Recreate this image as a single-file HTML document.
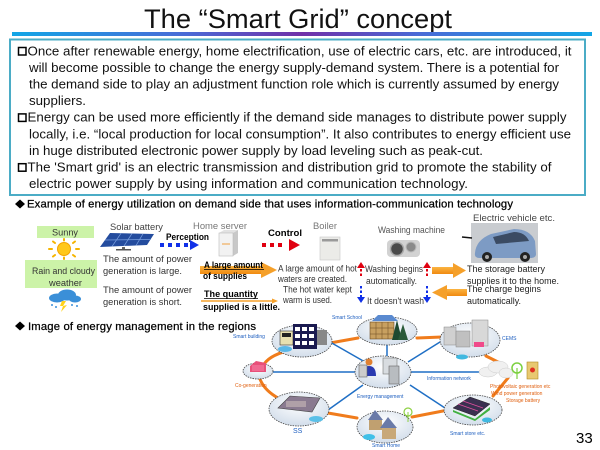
<!DOCTYPE html>
<html><head><meta charset="utf-8"><style>
html,body{margin:0;padding:0;background:#fff}
svg{display:block}
</style></head><body>
<svg width="600" height="450" viewBox="0 0 600 450" xmlns="http://www.w3.org/2000/svg" font-family="'Liberation Sans', Arial, sans-serif">
<defs>
<linearGradient id="bar" x1="0" x2="1" y1="0" y2="0">
<stop offset="0" stop-color="#12a6e6"/><stop offset="0.3" stop-color="#4a6ad6"/><stop offset="0.5" stop-color="#7030a8"/><stop offset="0.7" stop-color="#4a6ad6"/><stop offset="1" stop-color="#12a6e6"/>
</linearGradient>
<radialGradient id="ell" cx="0.5" cy="0.35" r="0.7"><stop offset="0" stop-color="#ffffff"/><stop offset="1" stop-color="#cfdbe9"/></radialGradient>
<linearGradient id="org" x1="0" x2="0" y1="0" y2="1"><stop offset="0" stop-color="#fbb441"/><stop offset="1" stop-color="#f08a10"/></linearGradient>
</defs>
<rect width="600" height="450" fill="#fff"/>

<!-- Title -->
<text x="144" y="28" font-size="27" fill="#111" textLength="308" lengthAdjust="spacingAndGlyphs">The “Smart Grid” concept</text>
<rect x="12" y="32" width="580" height="4" fill="url(#bar)"/>

<!-- Text box -->
<rect x="10" y="39.5" width="575" height="155.5" fill="#fff" stroke="#4bacc6" stroke-width="2"/>
<g font-size="13.3" fill="#111">
<rect x="18.5" y="47.5" width="7.5" height="7.5" fill="none" stroke="#000" stroke-width="1.5"/>
<text x="27.5" y="55.3" textLength="544" lengthAdjust="spacing">Once after renewable energy, home electrification, use of electric cars, etc. are introduced, it</text>
<text x="29" y="71.9" textLength="530" lengthAdjust="spacing">will become possible to change the energy supply-demand system. There is a potential for</text>
<text x="29" y="88.5" textLength="530" lengthAdjust="spacing">the demand side to play an adjustment function role which is currently assumed by energy</text>
<text x="29" y="105.1">suppliers.</text>
<rect x="18.5" y="113.9" width="7.5" height="7.5" fill="none" stroke="#000" stroke-width="1.5"/>
<text x="27.5" y="121.7" textLength="539" lengthAdjust="spacing">Energy can be used more efficiently if the demand side manages to distribute power supply</text>
<text x="29" y="138.3" textLength="542" lengthAdjust="spacing">locally, i.e. “local production for local consumption”. It also contributes to energy efficient use</text>
<text x="29" y="154.9" textLength="454" lengthAdjust="spacing">in huge distributed electronic power supply by load leveling such as peak-cut.</text>
<rect x="18.5" y="163.7" width="7.5" height="7.5" fill="none" stroke="#000" stroke-width="1.5"/>
<text x="27.5" y="171.5" textLength="524" lengthAdjust="spacing">The 'Smart grid' is an electric transmission and distribution grid to promote the stability of</text>
<text x="29" y="188.1" textLength="439" lengthAdjust="spacing">electric power supply by using information and communication technology.</text>
</g>

<!-- Heading 1 -->
<polygon points="15,204 20,199.5 25,204 20,208.5" fill="#000"/>
<text x="27" y="207.5" font-size="11.3" fill="#000" stroke="#000" stroke-width="0.25" textLength="486" lengthAdjust="spacing">Example of energy utilization on demand side that uses information-communication technology</text>

<!-- Sunny -->
<rect x="37" y="226" width="57" height="12" fill="#ccf3a8"/>
<text x="52" y="235.5" font-size="9.5" fill="#333" textLength="26" lengthAdjust="spacingAndGlyphs">Sunny</text>
<circle cx="64" cy="249" r="6.5" fill="#ffc81a" stroke="#f3a400" stroke-width="1"/>
<g stroke="#f5b400" stroke-width="2" stroke-linecap="round">
<line x1="52" y1="249" x2="49" y2="249"/><line x1="76" y1="249" x2="79" y2="249"/>
<line x1="64" y1="240.5" x2="64" y2="239"/><line x1="64" y1="257.5" x2="64" y2="259"/>
<line x1="55" y1="243" x2="53" y2="241.5"/><line x1="73" y1="243" x2="75" y2="241.5"/>
<line x1="55" y1="255" x2="53" y2="256.5"/><line x1="73" y1="255" x2="75" y2="256.5"/>
</g>

<!-- Solar battery -->
<text x="110" y="230" font-size="9.5" fill="#444" textLength="53" lengthAdjust="spacingAndGlyphs">Solar battery</text>
<polygon points="110,233 154,234 147,245 100,247" fill="#244c9e"/>
<g stroke="#7aa0e0" stroke-width="0.7"><line x1="121" y1="233.3" x2="112" y2="246.5"/><line x1="132" y1="233.5" x2="124" y2="246"/><line x1="143" y1="233.8" x2="136" y2="245.6"/><line x1="105" y1="240" x2="151" y2="239.5"/></g>
<rect x="122" y="247" width="3" height="3" fill="#666"/><rect x="116" y="249" width="15" height="1.5" fill="#555"/>

<!-- Perception -->
<text x="166" y="240" font-size="9.5" font-weight="bold" fill="#000" textLength="43" lengthAdjust="spacingAndGlyphs">Perception</text>
<g fill="#1030e8"><rect x="160" y="243" width="4" height="4"/><rect x="168" y="243" width="4" height="4"/><rect x="176" y="243" width="4" height="4"/><rect x="184" y="243" width="4" height="4"/><polygon points="190,240 199,245 190,250"/></g>

<!-- Home server -->
<text x="193" y="229" font-size="9.5" fill="#777" textLength="54" lengthAdjust="spacingAndGlyphs">Home server</text>
<polygon points="219,233 224,230 238,230 233,233" fill="#e2e2e2"/>
<polygon points="233,233 238,230 238,253 233,256" fill="#c8c8c8"/>
<rect x="219" y="233" width="14" height="23" fill="#f2f2f2" stroke="#bbb" stroke-width="0.6"/>
<line x1="222" y1="244" x2="230" y2="244" stroke="#f0a040" stroke-width="1"/>

<!-- Control -->
<text x="268" y="236" font-size="9.5" font-weight="bold" fill="#000" textLength="34" lengthAdjust="spacingAndGlyphs">Control</text>
<g fill="#e00010"><rect x="262" y="243" width="4" height="4"/><rect x="270" y="243" width="4" height="4"/><rect x="278" y="243" width="4" height="4"/><polygon points="289,239 300,245 289,251"/></g>

<!-- Boiler -->
<text x="313" y="229" font-size="9.5" fill="#777" textLength="24" lengthAdjust="spacingAndGlyphs">Boiler</text>
<rect x="320" y="237" width="20" height="23" fill="#ebebe8" stroke="#c8c8c8" stroke-width="0.6"/>
<rect x="322" y="239" width="16" height="2.5" fill="#9a9a9a"/>

<!-- Washing machine -->
<text x="378" y="233" font-size="9.5" fill="#555" textLength="67" lengthAdjust="spacingAndGlyphs">Washing machine</text>
<rect x="387" y="240" width="33" height="17" rx="4" fill="#d2d2d2"/>
<circle cx="397" cy="249" r="6.5" fill="#4a4a4a" stroke="#aaa" stroke-width="1.5"/>
<circle cx="411" cy="247" r="5" fill="#8a8a8a" stroke="#bbb" stroke-width="1"/>

<!-- Electric vehicle -->
<text x="473" y="221" font-size="9.5" fill="#444" textLength="82" lengthAdjust="spacingAndGlyphs">Electric vehicle etc.</text>
<rect x="471" y="223" width="67" height="40" fill="#c9ccd0"/>
<path d="M462,237 L472,238" stroke="#111" stroke-width="1.5"/>
<path d="M475,253 Q476,240 491,234 L514,229 Q530,229 535,241 L536,254 Q536,258 530,258 L480,258 Q474,258 475,253 Z" fill="#7d9bc4"/>
<path d="M493,237 L514,232 Q525,232 529,241 L496,244 Z" fill="#3b4b63"/>
<circle cx="487" cy="257" r="5" fill="#222"/><circle cx="487" cy="257" r="2" fill="#aaa"/>
<circle cx="525" cy="257" r="5" fill="#222"/><circle cx="525" cy="257" r="2" fill="#aaa"/>

<!-- Rain box -->
<rect x="25" y="260" width="72" height="28" fill="#ccf3a8"/>
<text x="32" y="274" font-size="9.5" fill="#333" textLength="63" lengthAdjust="spacingAndGlyphs">Rain and cloudy</text>
<text x="49" y="286" font-size="9.5" fill="#333" textLength="33" lengthAdjust="spacingAndGlyphs">weather</text>
<g fill="#3a8fd8"><ellipse cx="57" cy="298" rx="8" ry="4.5"/><ellipse cx="67" cy="295" rx="9" ry="5.5"/><ellipse cx="75" cy="299" rx="6" ry="3.5"/></g>
<polygon points="62,301 66,301 63,306 67,305 61,312 63,306 60,306" fill="#ffd21a"/>
<g fill="#3a8fd8"><circle cx="52" cy="305" r="1"/><circle cx="72" cy="305" r="1"/><circle cx="77" cy="306" r="1"/><circle cx="56" cy="307" r="1"/></g>

<g font-size="9.5" fill="#333" lengthAdjust="spacingAndGlyphs">
<text x="103" y="262" textLength="89" lengthAdjust="spacingAndGlyphs">The amount of power</text>
<text x="103" y="274" textLength="79" lengthAdjust="spacingAndGlyphs">generation is large.</text>
<text x="103" y="293" textLength="89" lengthAdjust="spacingAndGlyphs">The amount of power</text>
<text x="103" y="305" textLength="79" lengthAdjust="spacingAndGlyphs">generation is short.</text>
</g>

<!-- Orange big arrow -->
<rect x="200" y="266" width="62" height="8" fill="url(#org)"/>
<polygon points="261,262 277,270 261,278" fill="#f5a02a"/>
<g font-size="9.5" font-weight="bold" fill="#000">
<text x="204" y="268" textLength="59" lengthAdjust="spacingAndGlyphs">A large amount</text>
<line x1="204" y1="269.5" x2="264" y2="269.5" stroke="#000" stroke-width="0.8"/>
<text x="203" y="279" textLength="44" lengthAdjust="spacingAndGlyphs">of supplies</text>
<text x="204" y="297" textLength="54" lengthAdjust="spacingAndGlyphs">The quantity</text>
<line x1="204" y1="298.5" x2="258" y2="298.5" stroke="#000" stroke-width="0.8"/>
<text x="203" y="310" textLength="77" lengthAdjust="spacingAndGlyphs">supplied is a little.</text>
</g>
<line x1="201" y1="301" x2="273" y2="301" stroke="#f5a02a" stroke-width="1.5"/>
<polygon points="272,298.5 278,301 272,303.5" fill="#f5a02a"/>

<g font-size="9" fill="#333">
<text x="278" y="271.5" textLength="79" lengthAdjust="spacingAndGlyphs">A large amount of hot</text>
<text x="278" y="282" textLength="69" lengthAdjust="spacingAndGlyphs">waters are created.</text>
<text x="283" y="292.5" textLength="69" lengthAdjust="spacingAndGlyphs">The hot water kept</text>
<text x="283" y="303" textLength="49" lengthAdjust="spacingAndGlyphs">warm is used.</text>
</g>

<!-- dotted up/down arrows -->
<g>
<polygon points="357,268 361,262 365,268" fill="#e00010"/>
<g fill="#e00010"><rect x="360" y="269" width="2" height="2.5"/><rect x="360" y="273.5" width="2" height="2.5"/></g>
<g fill="#1030e8"><rect x="360" y="286" width="2" height="2.5"/><rect x="360" y="290.5" width="2" height="2.5"/><rect x="360" y="295" width="2" height="2"/></g>
<polygon points="357,297 361,303 365,297" fill="#1030e8"/>
<polygon points="423,268 427,262 431,268" fill="#e00010"/>
<g fill="#e00010"><rect x="426" y="269" width="2" height="2.5"/><rect x="426" y="273.5" width="2" height="2.5"/></g>
<g fill="#1030e8"><rect x="426" y="286" width="2" height="2.5"/><rect x="426" y="290.5" width="2" height="2.5"/><rect x="426" y="295" width="2" height="2"/></g>
<polygon points="423,297 427,303 431,297" fill="#1030e8"/>
</g>
<g font-size="9" fill="#333">
<text x="365" y="272" textLength="58" lengthAdjust="spacingAndGlyphs">Washing begins</text>
<text x="366" y="284" textLength="51" lengthAdjust="spacingAndGlyphs">automatically.</text>
<text x="367" y="304" textLength="57" lengthAdjust="spacingAndGlyphs">It doesn't wash</text>
</g>

<!-- orange arrows right side -->
<rect x="432" y="267" width="22" height="7" fill="url(#org)"/>
<polygon points="453,263 466,270.5 453,278" fill="#f5a02a"/>
<rect x="446" y="289" width="21" height="7" fill="url(#org)"/>
<polygon points="447,285 432,292.5 447,300" fill="#f5a02a"/>
<g font-size="9.6" fill="#222">
<text x="467" y="272" textLength="78" lengthAdjust="spacingAndGlyphs">The storage battery</text>
<text x="467" y="284" textLength="92" lengthAdjust="spacingAndGlyphs">supplies it to the home.</text>
<text x="467" y="292" textLength="74" lengthAdjust="spacingAndGlyphs">The charge begins</text>
<text x="467" y="304" textLength="54" lengthAdjust="spacingAndGlyphs">automatically.</text>
</g>

<!-- Heading 2 -->
<polygon points="15,326 20,321.5 25,326 20,330.5" fill="#000"/>
<text x="28" y="330" font-size="11.3" fill="#000" stroke="#000" stroke-width="0.25" textLength="228" lengthAdjust="spacing">Image of energy management in the regions</text>

<!-- Region diagram: lines -->
<g stroke="#f07c1c" stroke-width="3" fill="none" stroke-linecap="round">
<line x1="330" y1="343" x2="358" y2="338"/>
<path d="M263,366 Q268,356 287,351"/>
<path d="M260,379 Q264,390 278,398"/>
<line x1="328" y1="413" x2="357" y2="418"/>
<line x1="417" y1="338" x2="442" y2="337"/>
<line x1="486" y1="356" x2="500" y2="363"/>
<line x1="508" y1="378" x2="493" y2="396"/>
<line x1="443" y1="411" x2="412" y2="417"/>
</g>
<g stroke="#1f6fc5" stroke-width="1.5" fill="none">
<line x1="330" y1="342" x2="365" y2="362"/>
<line x1="273" y1="372" x2="356" y2="372"/>
<line x1="328" y1="410" x2="363" y2="385"/>
<line x1="408" y1="362" x2="440" y2="342"/>
<line x1="410" y1="372" x2="482" y2="372"/>
<line x1="410" y1="385" x2="445" y2="408"/>
<line x1="387" y1="345" x2="387" y2="356"/>
</g>

<!-- Ellipses -->
<g fill="url(#ell)" stroke="#444" stroke-width="0.8" stroke-dasharray="1.5,1">
<ellipse cx="302" cy="341" rx="30" ry="16"/>
<ellipse cx="387" cy="331" rx="30" ry="14"/>
<ellipse cx="258" cy="371" rx="15" ry="8"/>
<ellipse cx="383" cy="372" rx="28" ry="16"/>
<ellipse cx="299" cy="409" rx="30" ry="17"/>
<ellipse cx="385" cy="427" rx="28" ry="16"/>
<ellipse cx="470" cy="340" rx="30" ry="17"/>
<ellipse cx="473" cy="410" rx="29" ry="15"/>
</g>

<!-- Icons: smart building -->
<rect x="280" y="331" width="13" height="14" fill="#e8e0b0" stroke="#333" stroke-width="0.6"/>
<rect x="282" y="333" width="9" height="4" fill="#222"/>
<rect x="293" y="324" width="24" height="25" fill="#1a1a50"/>
<g fill="#fff"><rect x="295" y="327" width="5" height="4"/><rect x="302" y="327" width="5" height="4"/><rect x="309" y="327" width="5" height="4"/><rect x="295" y="334" width="5" height="4"/><rect x="302" y="334" width="5" height="4"/><rect x="309" y="334" width="5" height="4"/><rect x="295" y="341" width="5" height="4"/><rect x="302" y="341" width="5" height="4"/><rect x="309" y="341" width="5" height="4"/></g>
<rect x="317" y="330" width="10" height="15" fill="#888"/>
<ellipse cx="285" cy="349" rx="7" ry="3" fill="#5ab8e8"/>

<!-- smart school -->
<rect x="370" y="322" width="24" height="17" fill="#c8a060" stroke="#6a4a20" stroke-width="0.6"/>
<g stroke="#6a4a20" stroke-width="0.5"><line x1="376" y1="322" x2="376" y2="339"/><line x1="382" y1="322" x2="382" y2="339"/><line x1="388" y1="322" x2="388" y2="339"/><line x1="370" y1="328" x2="394" y2="328"/><line x1="370" y1="334" x2="394" y2="334"/></g>
<polygon points="392,340 397,320 402,340" fill="#1e4a30"/>
<polygon points="398,340 403,324 408,340" fill="#2a5a3a"/>
<polygon points="372,321 378,315 392,315 398,321" fill="#5a8ad0"/>

<!-- co-generation -->
<polygon points="250,366 256,361 266,363 266,372 250,372" fill="#e8507a"/>
<rect x="252" y="365" width="12" height="6" fill="#f06a92"/>

<!-- center -->
<circle cx="369" cy="362" r="3.5" fill="#e08030"/>
<path d="M362,376 Q362,366 369,366 Q376,366 376,376 Z" fill="#2a3ab0"/>
<rect x="359" y="365" width="8" height="12" fill="#ccc" stroke="#666" stroke-width="0.6"/>
<rect x="383" y="358" width="14" height="16" fill="#d8dce0" stroke="#777" stroke-width="0.6"/>
<rect x="389" y="366" width="10" height="18" fill="#b8bcc0" stroke="#666" stroke-width="0.6"/>

<!-- SS -->
<polygon points="278,408 290,396 320,398 312,412" fill="#8a7a90" stroke="#444" stroke-width="0.6"/>
<rect x="286" y="401" width="20" height="6" fill="#b0a0a8"/>
<ellipse cx="316" cy="419" rx="7" ry="3" fill="#5ac0e8"/>

<!-- smart home -->
<polygon points="368,420 375,410 383,420" fill="#6a7aa8"/>
<rect x="369" y="420" width="13" height="10" fill="#c0a070"/>
<polygon points="380,428 388,417 397,428" fill="#6a7aa8"/>
<rect x="382" y="428" width="14" height="11" fill="#c8a878"/>
<ellipse cx="369" cy="437" rx="6" ry="3" fill="#40c0e8"/>
<circle cx="408" cy="412" r="4" fill="none" stroke="#8cd040" stroke-width="1.2"/>
<line x1="408" y1="412" x2="408" y2="422" stroke="#8cd040" stroke-width="1"/>

<!-- CEMS -->
<rect x="444" y="327" width="12" height="18" fill="#d0d0d0" stroke="#888" stroke-width="0.5"/>
<rect x="456" y="331" width="14" height="16" fill="#c0c0c0" stroke="#888" stroke-width="0.5"/>
<rect x="472" y="320" width="16" height="26" fill="#d8d8d8" stroke="#888" stroke-width="0.5"/>
<rect x="474" y="342" width="10" height="5" fill="#f04a8a"/>
<ellipse cx="462" cy="357" rx="6" ry="2.5" fill="#40b8e0"/>
<text x="502" y="340" font-size="5" fill="#2060c0">CEMS</text>

<!-- Power generation -->
<g fill="#f0f0f0" stroke="#ccc" stroke-width="0.5"><ellipse cx="488" cy="372" rx="9" ry="5"/><ellipse cx="498" cy="367" rx="10" ry="6"/><ellipse cx="506" cy="373" rx="7" ry="5"/></g>
<circle cx="517" cy="368" r="5" fill="none" stroke="#7cd040" stroke-width="1.5"/>
<line x1="517" y1="368" x2="517" y2="379" stroke="#7cd040" stroke-width="1.2"/>
<rect x="527" y="362" width="11" height="17" fill="#e8c870" stroke="#b08a20" stroke-width="0.6"/>
<circle cx="532.5" cy="370" r="2.5" fill="#e03020"/>

<!-- smart store -->
<polygon points="453,408 470,397 490,404 475,416" fill="#3a3050" stroke="#222" stroke-width="0.5"/>
<g stroke="#e050a0" stroke-width="0.8"><line x1="458" y1="404" x2="478" y2="411"/><line x1="463" y1="401" x2="483" y2="408"/></g>
<polygon points="453,410 475,419 490,407 490,410 475,421 453,412" fill="#40b040"/>
<ellipse cx="487" cy="420" rx="5" ry="2.5" fill="#40b8e0"/>

<!-- Labels -->
<g font-size="5" fill="#2060c0">
<text x="233" y="338">Smart building</text>
<text x="332" y="319">Smart School</text>
<text x="357" y="398">Energy management</text>
<text x="372" y="447">Smart Home</text>
<text x="427" y="380">Information network</text>
<text x="450" y="435">Smart store etc.</text>
</g>
<text x="293" y="433" font-size="7" fill="#2060c0">SS</text>
<g font-size="5" fill="#e06010">
<text x="235" y="387">Co-generation</text>
<text x="490" y="388">Photovoltaic generation etc</text>
<text x="491" y="395">Wind power generation</text>
<text x="506" y="402">Storage battery</text>
</g>

<!-- Page number -->
<text x="576" y="443" font-size="15" fill="#000">33</text>
</svg>
</body></html>
